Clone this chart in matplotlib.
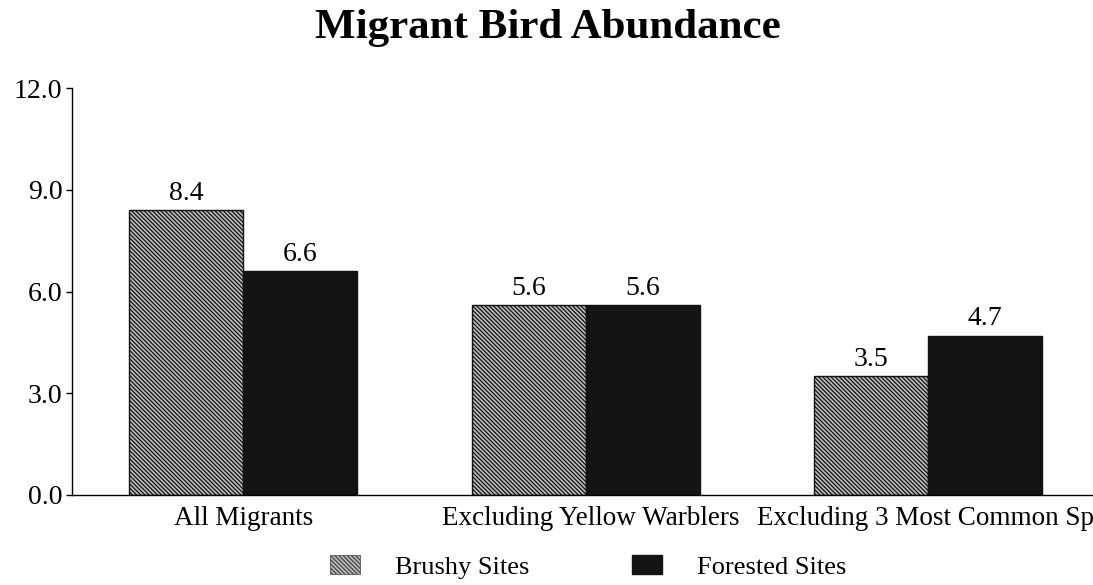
import matplotlib.pyplot as plt
from matplotlib.patches import Patch
from matplotlib.transforms import ScaledTranslation
import numpy as np

plt.rcParams['font.family'] = ['Liberation Serif', 'DejaVu Serif']
plt.rcParams['hatch.linewidth'] = 0.9

# data
groups = ['All Migrants', 'Excluding Yellow Warblers', 'Excluding 3 Most Common Species']
brushy = [8.4, 5.6, 3.5]
forested = [6.6, 5.6, 4.7]
yticks = [0.0, 3.0, 6.0, 9.0, 12.0]

fig = plt.figure(figsize=(10.93, 5.85), dpi=100)
ax = fig.add_axes([72/1093, 90/585, 1027.5/1093, 407/585])

x = np.arange(len(groups))
w = 0.333
hatch = '\\' * 8
b1 = ax.bar(x - w/2, brushy, w, facecolor='#bdbdbd', edgecolor='#111111',
            hatch=hatch, linewidth=1.0)
b2 = ax.bar(x + w/2, forested, w, facecolor='#141414', edgecolor='#111111',
            linewidth=1.0)

for bars, vals in [(b1, brushy), (b2, forested)]:
    for r, v in zip(bars, vals):
        ax.annotate(f'{v:.1f}', (r.get_x() + r.get_width()/2, v),
                    xytext=(0, 3), textcoords='offset points',
                    ha='center', va='bottom', fontsize=20)

ax.set_xlim(-0.5, 2.5)
ax.set_ylim(0, 12)
ax.set_yticks(yticks)
ax.set_yticklabels([f'{t:.1f}' for t in yticks], fontsize=20)
ax.set_xticks(x)
ax.set_xticklabels(groups, fontsize=19.5)
ax.tick_params(axis='x', length=0, pad=8)
ax.tick_params(axis='y', length=4, width=1, direction='out', pad=3)
# labels in the original sit a little right of the group centres
for lab, dx in zip(ax.get_xticklabels(), [0, 5, 24]):
    lab.set_transform(lab.get_transform() + ScaledTranslation(dx/100, 0, fig.dpi_scale_trans))
for s in ['top', 'right']:
    ax.spines[s].set_visible(False)
ax.spines['left'].set_linewidth(1)
ax.spines['bottom'].set_linewidth(1)

fig.text(548/1093, 1 - 28/585, 'Migrant Bird Abundance', fontsize=31,
         fontweight='bold', ha='center', va='center')

handles = [Patch(facecolor='#bdbdbd', edgecolor='#444444', hatch=hatch, linewidth=0.5),
           Patch(facecolor='#141414', edgecolor='#141414')]
fig.legend(handles, ['Brushy Sites', 'Forested Sites'], loc='center',
           bbox_to_anchor=(588/1093, 18/585), ncol=2, frameon=False,
           fontsize=19, handlelength=1.15, handleheight=0.75,
           handletextpad=1.3, columnspacing=3.9)

fig.savefig('out.png', dpi=100)
